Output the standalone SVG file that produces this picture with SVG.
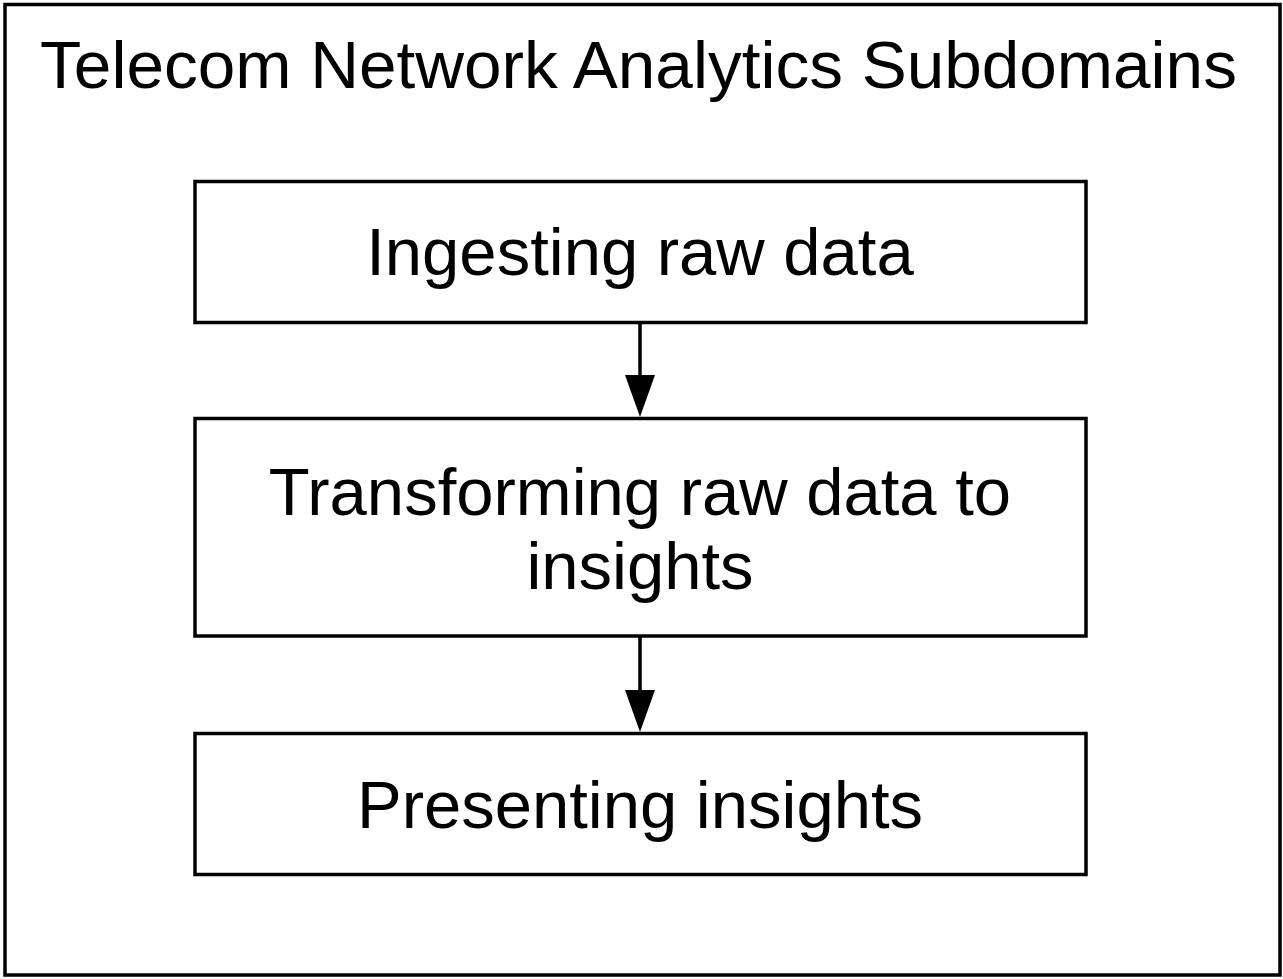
<svg xmlns="http://www.w3.org/2000/svg" width="1283" height="979" viewBox="0 0 1283 979">
<defs>
<style>
.box{fill:#fff;stroke:#000;stroke-width:3.5}
.lbl{font-family:"Liberation Sans",Arial,Helvetica,sans-serif;font-size:67px;fill:#000;text-anchor:middle}
.edge{stroke:#000;stroke-width:3.5;fill:none}
</style>
</defs>
<rect width="1283" height="979" fill="#fff"/>
<g id="frame">
<rect class="box" x="5" y="4.5" width="1275" height="970.5"/>
<text class="lbl" x="638.5" y="88" style="font-size:67.5px">Telecom Network Analytics Subdomains</text>
</g>
<g id="connectors">
<line class="edge" x1="640" y1="322.5" x2="640" y2="380"/>
<path d="M625,375 L655,375 L640,417 Z" fill="#000"/>
<line class="edge" x1="640" y1="636" x2="640" y2="692"/>
<path d="M625,690 L655,690 L640,732 Z" fill="#000"/>
</g>
<g id="node-ingest">
<rect class="box" x="195" y="181.5" width="891" height="141"/>
<text class="lbl" x="640" y="275">Ingesting raw data</text>
</g>
<g id="node-transform">
<rect class="box" x="195" y="418.5" width="891" height="217.5"/>
<text class="lbl" x="640" y="515">Transforming raw data to</text>
<text class="lbl" x="640" y="589">insights</text>
</g>
<g id="node-present">
<rect class="box" x="195" y="733.5" width="891" height="141"/>
<text class="lbl" x="640" y="828">Presenting insights</text>
</g>
</svg>
